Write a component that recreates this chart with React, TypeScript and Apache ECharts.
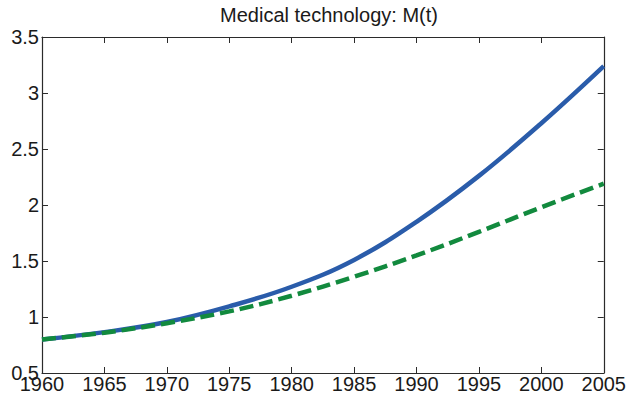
import React, { useEffect, useRef } from "react";
import * as echarts from "echarts";

const years = [1960, 1965, 1970, 1975, 1980, 1985, 1990, 1995, 2000, 2005];
const blueValues = [0.8, 0.865, 0.955, 1.095, 1.27, 1.51, 1.85, 2.26, 2.73, 3.24];
const greenValues = [0.8, 0.86, 0.945, 1.05, 1.19, 1.36, 1.55, 1.76, 1.98, 2.19];
const titleText = "Medical technology: M(t)";

const FONT = "'Liberation Sans', Arial, Helvetica, sans-serif";
const AXIS_COLOR = "#2b2b2b";

export default function App() {
  const ref = useRef<HTMLDivElement>(null);
  useEffect(() => {
    if (!ref.current) return;
    const chart = echarts.init(ref.current, undefined, { renderer: "svg" });
    const xCommon = {
      type: "value" as const,
      min: 1960,
      max: 2005,
      interval: 5,
      splitLine: { show: false },
      axisLine: { show: true, onZero: false, lineStyle: { color: AXIS_COLOR, width: 1.2 } },
      axisTick: { show: true, inside: true, length: 6, lineStyle: { color: AXIS_COLOR, width: 1 } },
    };
    const yCommon = {
      type: "value" as const,
      min: 0.5,
      max: 3.5,
      interval: 0.5,
      splitLine: { show: false },
      axisLine: { show: true, onZero: false, lineStyle: { color: AXIS_COLOR, width: 1.2 } },
      axisTick: { show: true, inside: true, length: 6, lineStyle: { color: AXIS_COLOR, width: 1 } },
    };
    chart.setOption({
      animation: false,
      backgroundColor: "#ffffff",
      title: {
        text: titleText,
        left: 324,
        textAlign: "center",
        top: 0,
        textStyle: { fontFamily: FONT, fontSize: 20, fontWeight: "normal", color: "#1a1a1a" },
      },
      grid: { left: 42, right: 23, top: 37, bottom: 27, containLabel: false },
      xAxis: [
        {
          ...xCommon,
          position: "bottom",
          axisLabel: {
            show: true,
            margin: 1,
            fontFamily: FONT,
            fontSize: 20,
            color: "#1a1a1a",
            formatter: (v: number) => String(v),
          },
        },
        { ...xCommon, position: "top", axisLabel: { show: false } },
      ],
      yAxis: [
        {
          ...yCommon,
          position: "left",
          axisLabel: {
            show: true,
            margin: 3,
            fontFamily: FONT,
            fontSize: 20,
            color: "#1a1a1a",
            formatter: (v: number) => String(v),
          },
        },
        { ...yCommon, position: "right", axisLabel: { show: false } },
      ],
      series: [
        {
          type: "line",
          data: years.map((y, i) => [y, blueValues[i]]),
          smooth: 0.4,
          showSymbol: false,
          symbol: "none",
          lineStyle: { color: "#2A5CAA", width: 4.5 },
        },
        {
          type: "line",
          data: years.map((y, i) => [y, greenValues[i]]),
          smooth: 0.4,
          showSymbol: false,
          symbol: "none",
          lineStyle: { color: "#128A3E", width: 4.5, type: [14, 6] },
        },
      ],
    });
    return () => chart.dispose();
  }, []);
  return <div ref={ref} style={{ width: 629, height: 400, position: "absolute", left: 0, top: 0 }} />;
}
